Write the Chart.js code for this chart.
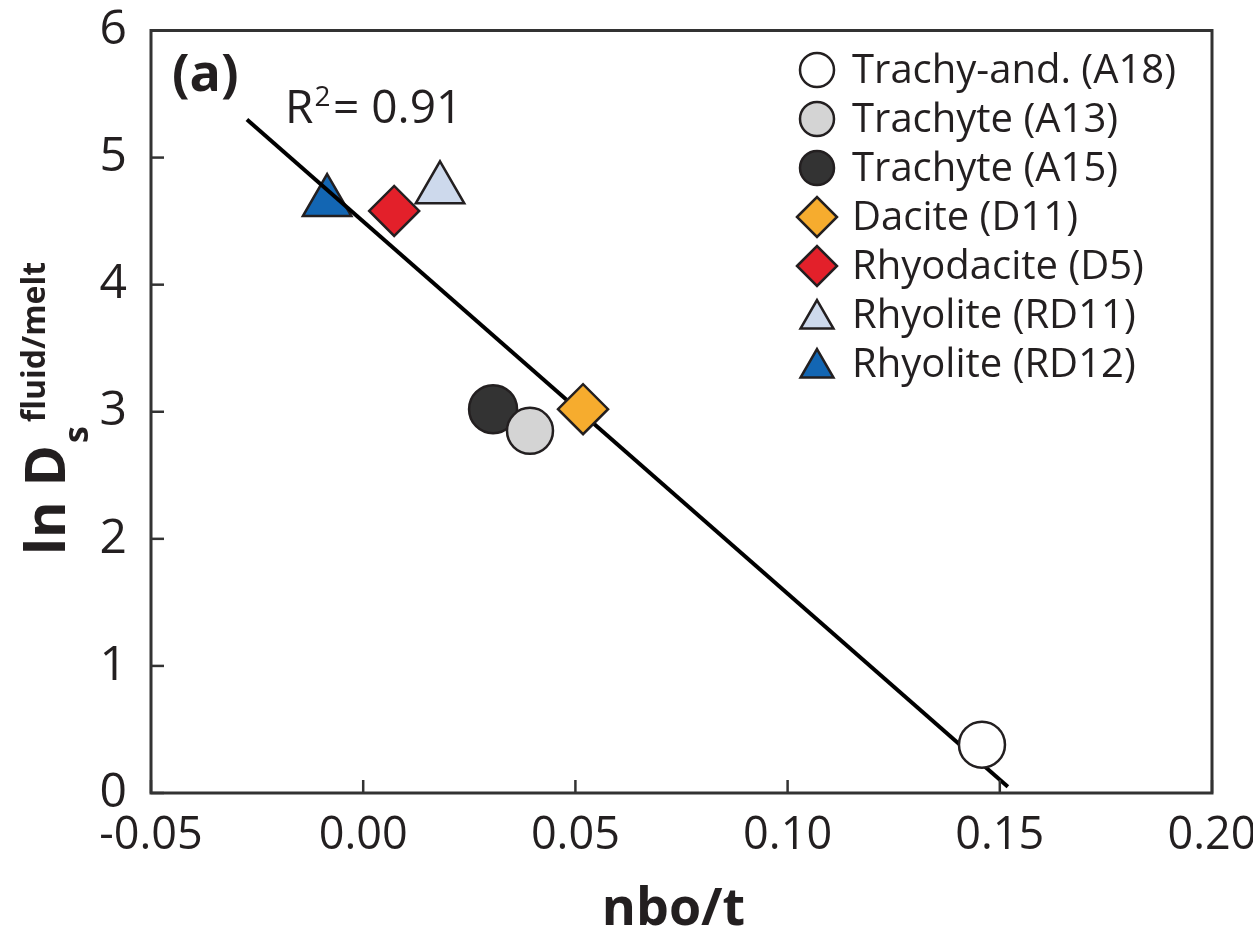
<!DOCTYPE html>
<html>
<head>
<meta charset="utf-8">
<script src="https://cdn.jsdelivr.net/npm/chart.js@4.4.1/dist/chart.umd.min.js"></script>
<style>
  html, body { margin: 0; padding: 0; background: #fff; }
  #wrap { width: 1253px; height: 936px; position: relative; }
</style>
</head>
<body>
<div id="wrap"><canvas id="chart"></canvas></div>
<script>
// ---------- Data ----------
var sampleNames = ['Trachy-and. (A18)', 'Trachyte (A13)', 'Trachyte (A15)', 'Dacite (D11)',
                   'Rhyodacite (D5)', 'Rhyolite (RD11)', 'Rhyolite (RD12)'];
var nboT = [0.1458, 0.0393, 0.0306, 0.0518, 0.0073, 0.0181, -0.0085];
var lnDs = [0.38, 2.85, 3.02, 3.02, 4.58, 4.75, 4.65];

// regression line end points
var fitX = [-0.0274, 0.1519];
var fitY = [5.30, 0.05];

var xTicks = [-0.05, 0.00, 0.05, 0.10, 0.15, 0.20];
var xTickLabels = ['-0.05', '0.00', '0.05', '0.10', '0.15', '0.20'];
var yTicks = [0, 1, 2, 3, 4, 5, 6];
var yTickLabels = ['0', '1', '2', '3', '4', '5', '6'];

// ---------- Styles ----------
var ink = '#231f20';
var fills   = ['#ffffff', '#d4d4d4', '#333333', '#f6ac2e', '#e3202a', '#cdd9ec', '#1366b3'];
var shapes  = ['circle', 'circle', 'circle', 'rectRot', 'rectRot', 'triangle', 'triangle'];
var sizes   = [23, 23, 24, 25, 25, 28, 28];
var legendSizes = [17, 17, 17, 20, 20, 19, 19];
var orders  = [0, 0, 0, 0, 0, 0, 2];
var FONT = "'Open Sans', 'Noto Sans', sans-serif";

var datasets = sampleNames.map(function (name, i) {
  return {
    label: name,
    data: [{ x: nboT[i], y: lnDs[i] }],
    pointStyle: shapes[i],
    pointRadius: sizes[i],
    pointHoverRadius: sizes[i],
    backgroundColor: fills[i],
    borderColor: ink,
    borderWidth: 2.5,
    order: orders[i],
    clip: false,
  };
});

datasets.push({
  label: '_fit',
  type: 'line',
  data: fitX.map(function (x, i) { return { x: x, y: fitY[i] }; }),
  borderColor: '#000',
  borderWidth: 4,
  pointRadius: 0,
  showLine: true,
  fill: false,
  order: 1,
  clip: false,
});

// ---------- Frame, inward ticks, titles, legend ----------
var decorPlugin = {
  id: 'decor',
  afterDatasetsDraw: function (chart) {
    var ctx = chart.ctx, a = chart.chartArea;
    var xs = chart.scales.x, ys = chart.scales.y;
    ctx.save();
    ctx.strokeStyle = '#333';
    ctx.lineWidth = 2.5;
    xTicks.forEach(function (v) {
      var px = xs.getPixelForValue(v);
      ctx.beginPath(); ctx.moveTo(px, a.bottom); ctx.lineTo(px, a.bottom - 13); ctx.stroke();
    });
    yTicks.forEach(function (v) {
      var py = ys.getPixelForValue(v);
      ctx.beginPath(); ctx.moveTo(a.left, py); ctx.lineTo(a.left + 13, py); ctx.stroke();
    });
    ctx.lineWidth = 3;
    ctx.strokeRect(a.left, a.top, a.right - a.left, a.bottom - a.top);
    ctx.restore();
  },
  afterDraw: function (chart) {
    var ctx = chart.ctx, a = chart.chartArea;
    ctx.save();
    ctx.fillStyle = ink;
    ctx.textBaseline = 'alphabetic';

    // panel label and R²
    ctx.font = 'bold 52px ' + FONT;
    ctx.textAlign = 'left';
    ctx.fillText('(a)', 172, 91);

    ctx.font = '46px ' + FONT;
    ctx.fillText('R', 285, 123);
    var rw = ctx.measureText('R').width;
    ctx.font = '28px ' + FONT;
    ctx.fillText('2', 285 + rw + 1, 106);
    ctx.font = '46px ' + FONT;
    ctx.fillText('= 0.91', 333, 123);

    // x axis title
    ctx.font = 'bold 52px ' + FONT;
    ctx.textAlign = 'center';
    ctx.fillText('nbo/t', (a.left + a.right) / 2 - 8, 925);

    // y axis title, rotated, with sub- and superscript
    ctx.translate(65, 555);
    ctx.rotate(-Math.PI / 2);
    ctx.textAlign = 'left';
    ctx.font = 'bold 56px ' + FONT;
    ctx.fillText('ln D', 0, 0);
    var w = ctx.measureText('ln D').width;
    ctx.font = 'bold 34px ' + FONT;
    ctx.fillText('s', w + 2, 23);
    var sw = ctx.measureText('s').width;
    ctx.font = 'bold 32px ' + FONT;
    ctx.fillText('fluid/melt', w + sw + 6, -20);
    ctx.restore();

    // legend
    ctx.save();
    var mx = 817, tx = 852, y0 = 70, step = 49;
    ctx.font = '40px ' + FONT;
    ctx.textAlign = 'left';
    ctx.textBaseline = 'middle';
    sampleNames.forEach(function (name, i) {
      var cy = y0 + step * i;
      ctx.fillStyle = fills[i];
      ctx.strokeStyle = ink;
      ctx.lineWidth = 2.5;
      Chart.helpers.drawPoint(ctx, {
        pointStyle: shapes[i], radius: legendSizes[i], rotation: 0, borderWidth: 2.5
      }, mx, cy + (shapes[i] === 'triangle' ? 4 : 0));
      ctx.fillStyle = ink;
      ctx.fillText(name, tx, cy + 2);
    });
    ctx.restore();
  }
};

// ---------- Chart ----------
new Chart(document.getElementById('chart'), {
  type: 'scatter',
  data: { datasets: datasets },
  options: {
    responsive: true,
    maintainAspectRatio: false,
    animation: false,
    layout: { padding: { top: 25, right: 41, left: 0, bottom: 0 } },
    plugins: {
      legend: { display: false },
      tooltip: { enabled: false },
    },
    scales: {
      x: {
        type: 'linear',
        min: -0.05,
        max: 0.20,
        afterBuildTicks: function (s) { s.ticks = xTicks.map(function (v) { return { value: v }; }); },
        afterFit: function (s) { s.height = 143; s.paddingLeft = 0; s.paddingRight = 0; },
        grid: { display: false, drawTicks: false },
        border: { display: false },
        ticks: {
          padding: 16,
          color: ink,
          font: { family: FONT, size: 45 },
          maxRotation: 0,
          autoSkip: false,
          callback: function (v, i) { return xTickLabels[i]; },
        },
      },
      y: {
        type: 'linear',
        min: 0,
        max: 6,
        afterBuildTicks: function (s) { s.ticks = yTicks.map(function (v) { return { value: v }; }); },
        afterFit: function (s) { s.width = 151; s.paddingTop = 0; s.paddingBottom = 0; },
        grid: { display: false, drawTicks: false },
        border: { display: false },
        ticks: {
          padding: 24,
          color: ink,
          font: { family: FONT, size: 48 },
          autoSkip: false,
          callback: function (v, i) { return yTickLabels[i]; },
        },
      },
    },
  },
  plugins: [decorPlugin],
});
</script>
</body>
</html>
